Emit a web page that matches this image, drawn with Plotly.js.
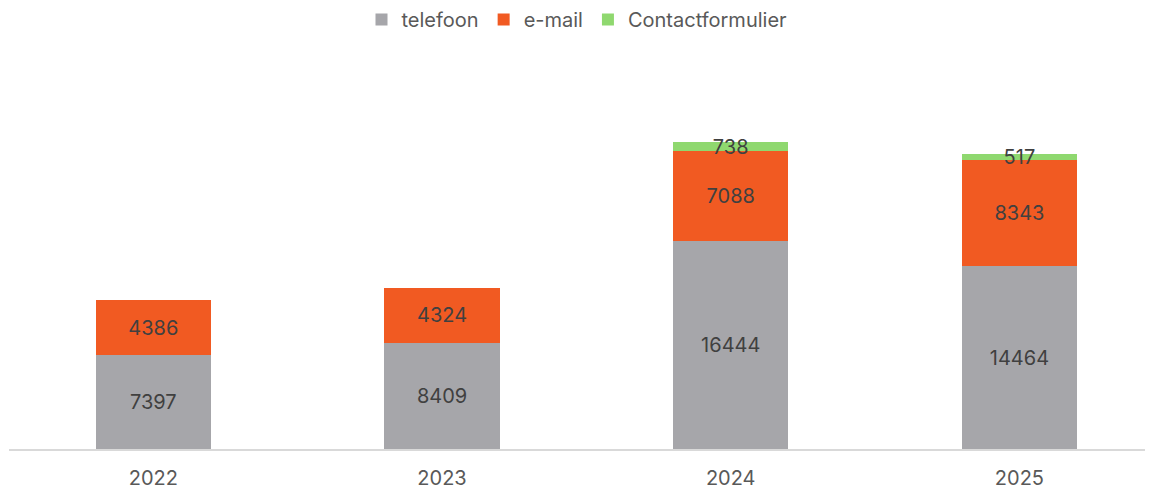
<!DOCTYPE html>
<html><head><meta charset="utf-8">
<script src="https://cdn.plot.ly/plotly-3.0.1.min.js"></script>
<style>html,body{margin:0;padding:0;background:#fff}#chart{width:1153px;height:490px}</style>
</head><body><div id="chart"></div>
<script>
const years = ['2022','2023','2024','2025'];
const telefoon = [7397, 8409, 16444, 14464];
const email = [4386, 4324, 7088, 8343];
const contactformulier = [null, null, 738, 517];

const labelFont = {family:'Inter, "Open Sans", sans-serif', size:20, color:'#404040'};
function mk(name, vals, color){
  return {type:'bar', name:name, x:years, y:vals, marker:{color:color},
    text: vals.map(v => v==null ? '' : String(v)), textposition:'inside',
    insidetextanchor:'middle', constraintext:'none', textangle:0,
    insidetextfont:labelFont, hoverinfo:'skip', cliponaxis:false};
}
const data = [
  mk('telefoon', telefoon, '#A6A6AA'),
  mk('e-mail', email, '#F15A22'),
  mk('Contactformulier', contactformulier, '#8FD86F')
];
const layout = {
  width:1153, height:490, barmode:'stack', bargap:0.6,
  margin:{l:9, r:8, t:60, b:41, autoexpand:false},
  paper_bgcolor:'#fff', plot_bgcolor:'#fff',
  font:{family:'Inter, "Open Sans", sans-serif', color:'#595959', size:20},
  showlegend:true,
  legend:{orientation:'h', x:0.5, xanchor:'center', yref:'container', y:1.0, yanchor:'top',
    font:{size:20, color:'#595959'}, traceorder:'normal', itemwidth:30},
  xaxis:{type:'category', range:[-0.5, 3.435], showline:true, linecolor:'#D9D9D9', linewidth:2,
    ticks:'', ticklabelstandoff:10, tickfont:{size:20, color:'#595959'}, showgrid:false, zeroline:false},
  yaxis:{range:[0, 30750], visible:false, showgrid:false, zeroline:false}
};
Plotly.newPlot('chart', data, layout, {displayModeBar:false, staticPlot:true});
</script></body></html>
